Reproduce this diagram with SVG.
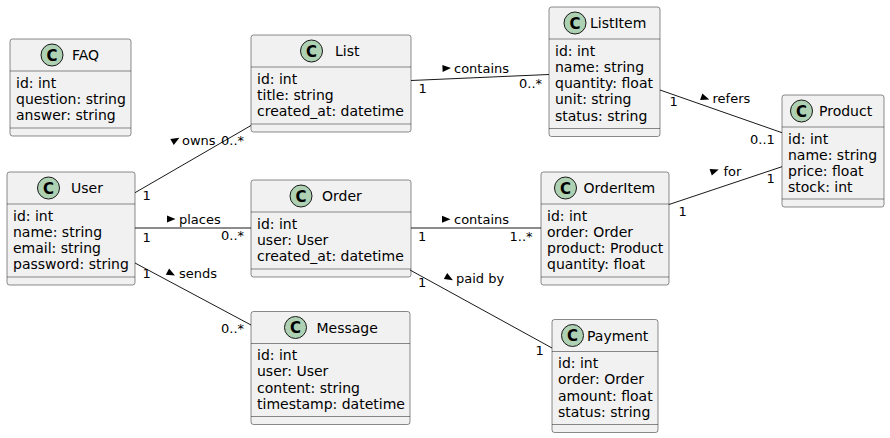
<svg xmlns="http://www.w3.org/2000/svg" xmlns:xlink="http://www.w3.org/1999/xlink" width="890" height="438" viewBox="0 0 890 438">
<style>
.box{fill:#F1F1F1;stroke:#181818;stroke-width:0.5}
.sep{stroke:#181818;stroke-width:0.5}
.ic{fill:#ADD1B2;stroke:#181818;stroke-width:1}
.icl{font-family:"DejaVu Sans","Liberation Sans",sans-serif;font-size:15px;font-weight:bold;fill:#000;text-anchor:middle}
.nm{font-family:"DejaVu Sans","Liberation Sans",sans-serif;font-size:14px;fill:#000}
.at{font-family:"DejaVu Sans","Liberation Sans",sans-serif;font-size:14px;fill:#000}
.lb{font-family:"DejaVu Sans","Liberation Sans",sans-serif;font-size:13px;fill:#000}
.ln{stroke:#181818;stroke-width:1;fill:none}
.dir{fill:#000}
</style>
<defs>
<path id="dir" d="M-4,-3.5 L-4,3.5 L4.5,0 Z"/>
</defs>
<rect width="890" height="438" fill="#FFFFFF"/>

<g id="FAQ">
<rect class="box" x="10" y="39" width="121" height="97" rx="2.5"/>
<circle class="ic" cx="52" cy="55" r="11"/><text class="icl" x="52" y="60.5">C</text>
<text class="nm" x="72" y="60">FAQ</text>
<line class="sep" x1="10" y1="71" x2="131" y2="71"/>
<text class="at" x="16" y="87.5">id: int</text>
<text class="at" x="16" y="103.8">question: string</text>
<text class="at" x="16" y="120.1">answer: string</text>
<line class="sep" x1="10" y1="128" x2="131" y2="128"/>
</g>

<g id="User">
<rect class="box" x="7" y="172" width="128" height="113" rx="2.5"/>
<circle class="ic" cx="48.5" cy="188" r="11"/><text class="icl" x="48.5" y="193.5">C</text>
<text class="nm" x="71" y="193">User</text>
<line class="sep" x1="7" y1="204" x2="135" y2="204"/>
<text class="at" x="13" y="220.5">id: int</text>
<text class="at" x="13" y="236.8">name: string</text>
<text class="at" x="13" y="253.1">email: string</text>
<text class="at" x="13" y="269.4">password: string</text>
<line class="sep" x1="7" y1="277" x2="135" y2="277"/>
</g>

<g id="List">
<rect class="box" x="251" y="35" width="160" height="97" rx="2.5"/>
<circle class="ic" cx="311.5" cy="51" r="11"/><text class="icl" x="311.5" y="56.5">C</text>
<text class="nm" x="335" y="56">List</text>
<line class="sep" x1="251" y1="67" x2="411" y2="67"/>
<text class="at" x="257" y="83.5">id: int</text>
<text class="at" x="257" y="99.8">title: string</text>
<text class="at" x="257" y="116.1">created_at: datetime</text>
<line class="sep" x1="251" y1="124" x2="411" y2="124"/>
</g>

<g id="Order">
<rect class="box" x="251" y="180" width="160" height="97" rx="2.5"/>
<circle class="ic" cx="301" cy="196" r="11"/><text class="icl" x="301" y="201.5">C</text>
<text class="nm" x="322" y="201">Order</text>
<line class="sep" x1="251" y1="212" x2="411" y2="212"/>
<text class="at" x="257" y="228.5">id: int</text>
<text class="at" x="257" y="244.8">user: User</text>
<text class="at" x="257" y="261.1">created_at: datetime</text>
<line class="sep" x1="251" y1="269" x2="411" y2="269"/>
</g>

<g id="Message">
<rect class="box" x="251" y="311.5" width="159" height="113" rx="2.5"/>
<circle class="ic" cx="295.5" cy="327.5" r="11"/><text class="icl" x="295.5" y="333">C</text>
<text class="nm" x="316.5" y="332.5">Message</text>
<line class="sep" x1="251" y1="343.5" x2="410" y2="343.5"/>
<text class="at" x="257" y="360">id: int</text>
<text class="at" x="257" y="376.3">user: User</text>
<text class="at" x="257" y="392.6">content: string</text>
<text class="at" x="257" y="408.9">timestamp: datetime</text>
<line class="sep" x1="251" y1="416.5" x2="410" y2="416.5"/>
</g>

<g id="ListItem">
<rect class="box" x="549" y="7" width="111" height="129.5" rx="2.5"/>
<circle class="ic" cx="575" cy="23" r="11"/><text class="icl" x="575" y="28.5">C</text>
<text class="nm" x="590" y="28">ListItem</text>
<line class="sep" x1="549" y1="39" x2="660" y2="39"/>
<text class="at" x="555" y="55.5">id: int</text>
<text class="at" x="555" y="71.8">name: string</text>
<text class="at" x="555" y="88.1">quantity: float</text>
<text class="at" x="555" y="104.4">unit: string</text>
<text class="at" x="555" y="120.7">status: string</text>
<line class="sep" x1="549" y1="128.5" x2="660" y2="128.5"/>
</g>

<g id="OrderItem">
<rect class="box" x="541" y="172" width="128" height="113" rx="2.5"/>
<circle class="ic" cx="565.5" cy="188" r="11"/><text class="icl" x="565.5" y="193.5">C</text>
<text class="nm" x="583.5" y="193">OrderItem</text>
<line class="sep" x1="541" y1="204" x2="669" y2="204"/>
<text class="at" x="547" y="220.5">id: int</text>
<text class="at" x="547" y="236.8">order: Order</text>
<text class="at" x="547" y="253.1">product: Product</text>
<text class="at" x="547" y="269.4">quantity: float</text>
<line class="sep" x1="541" y1="277" x2="669" y2="277"/>
</g>

<g id="Payment">
<rect class="box" x="552" y="319.5" width="106" height="113" rx="2.5"/>
<circle class="ic" cx="572.5" cy="335.5" r="11"/><text class="icl" x="572.5" y="341">C</text>
<text class="nm" x="587" y="340.5">Payment</text>
<line class="sep" x1="552" y1="351.5" x2="658" y2="351.5"/>
<text class="at" x="558" y="368">id: int</text>
<text class="at" x="558" y="384.3">order: Order</text>
<text class="at" x="558" y="400.6">amount: float</text>
<text class="at" x="558" y="416.9">status: string</text>
<line class="sep" x1="552" y1="424.5" x2="658" y2="424.5"/>
</g>

<g id="Product">
<rect class="box" x="782" y="95" width="102" height="112" rx="2.5"/>
<circle class="ic" cx="801.5" cy="111" r="11"/><text class="icl" x="801.5" y="116.5">C</text>
<text class="nm" x="819" y="116">Product</text>
<line class="sep" x1="782" y1="127" x2="884" y2="127"/>
<text class="at" x="788" y="143.5">id: int</text>
<text class="at" x="788" y="159.8">name: string</text>
<text class="at" x="788" y="176.1">price: float</text>
<text class="at" x="788" y="192.4">stock: int</text>
<line class="sep" x1="782" y1="199" x2="884" y2="199"/>
</g>

<g id="connectors">
<line class="ln" x1="135" y1="192.7" x2="251" y2="125.5"/>
<use href="#dir" class="dir" transform="translate(175.5,140) rotate(-30)"/>
<text class="lb" x="182" y="144.5">owns</text>
<text class="lb" x="142.5" y="200">1</text>
<text class="lb" x="221" y="144.5">0..*</text>

<line class="ln" x1="135" y1="228" x2="251" y2="228"/>
<use href="#dir" class="dir" transform="translate(171,219)"/>
<text class="lb" x="179" y="223.5">places</text>
<text class="lb" x="142.5" y="241.5">1</text>
<text class="lb" x="221" y="240">0..*</text>

<line class="ln" x1="135" y1="263" x2="251" y2="325"/>
<use href="#dir" class="dir" transform="translate(171,273.5) rotate(28)"/>
<text class="lb" x="179" y="278">sends</text>
<text class="lb" x="142.5" y="278">1</text>
<text class="lb" x="221" y="333">0..*</text>

<line class="ln" x1="411" y1="80.5" x2="549" y2="74.5"/>
<use href="#dir" class="dir" transform="translate(446.5,68.3) rotate(-2.5)"/>
<text class="lb" x="454" y="72.5">contains</text>
<text class="lb" x="418.5" y="93">1</text>
<text class="lb" x="519" y="88">0..*</text>

<line class="ln" x1="411" y1="228" x2="541" y2="228"/>
<use href="#dir" class="dir" transform="translate(446,219.3)"/>
<text class="lb" x="454" y="223.5">contains</text>
<text class="lb" x="418" y="241">1</text>
<text class="lb" x="509.5" y="241">1..*</text>

<line class="ln" x1="410" y1="270" x2="552" y2="348"/>
<use href="#dir" class="dir" transform="translate(449,278) rotate(29)"/>
<text class="lb" x="456" y="283">paid by</text>
<text class="lb" x="418" y="287">1</text>
<text class="lb" x="535.5" y="355">1</text>

<line class="ln" x1="660" y1="90" x2="782" y2="132.7"/>
<use href="#dir" class="dir" transform="translate(705,98) rotate(19)"/>
<text class="lb" x="712.5" y="102.5">refers</text>
<text class="lb" x="669.5" y="106">1</text>
<text class="lb" x="750" y="143.5">0..1</text>

<line class="ln" x1="669" y1="204.5" x2="782" y2="166.7"/>
<use href="#dir" class="dir" transform="translate(714.5,171) rotate(-18.5)"/>
<text class="lb" x="723.5" y="175.5">for</text>
<text class="lb" x="678.5" y="216">1</text>
<text class="lb" x="766.5" y="183">1</text>
</g>
</svg>
